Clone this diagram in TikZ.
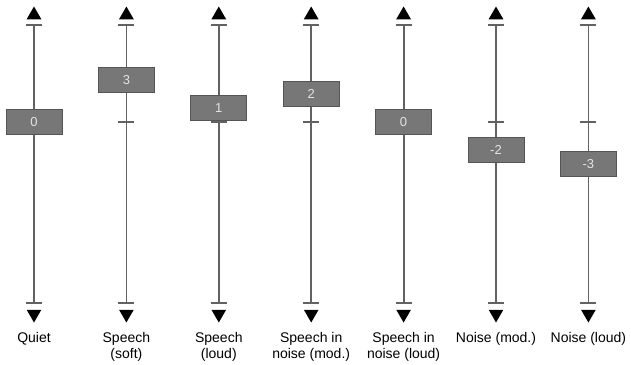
\documentclass[tikz,border=0pt]{standalone}
\usepackage{fontspec}
\setmainfont{Liberation Sans}
\usetikzlibrary{arrows.meta, positioning, shapes.geometric}
\definecolor{railGray}{HTML}{626262}
\definecolor{knobGray}{HTML}{777777}
\definecolor{knobEdge}{HTML}{555555}
\definecolor{knobText}{HTML}{E4E4E4}
\tikzset{
  rail/.style={draw=railGray, line width=1.8pt},
  railTick/.style={draw=railGray, line width=1.2pt},
  tipUp/.style={regular polygon, regular polygon sides=3, fill=black,
                inner sep=0pt, minimum size=17pt},
  tipDown/.style={tipUp, shape border rotate=180},
  knob/.style={rectangle, fill=knobGray, draw=knobEdge, line width=0.8pt,
               text=knobText, minimum width=56pt, minimum height=25pt,
               inner sep=0pt, font=\fontsize{13}{14}\selectfont},
  lbl/.style={align=center, inner sep=0pt, anchor=north,
              font=\fontsize{14}{16}\selectfont},
}
\begin{document}
\begin{tikzpicture}[x=1pt, y=-1pt]
  \useasboundingbox (0,0) rectangle (631,364);
  % one slider per listening situation
  \foreach \i/\txt/\v in {0/Quiet/0, 1/{Speech\\(soft)}/3, 2/{Speech\\(loud)}/1,
      3/{Speech in\\noise (mod.)}/2, 4/{Speech in\\noise (loud)}/0,
      5/Noise (mod.)/-2, 6/Noise (loud)/-3} {
    \pgfmathsetmacro{\px}{34+92.4*\i}
    \pgfmathsetmacro{\py}{122-14*\v}
    \coordinate (top\i) at (\px,25);
    \coordinate (mid\i) at (\px,122);
    \coordinate (bot\i) at (\px,303);
    \node[tipUp] (up\i) at (\px,15) {};
    \node[tipDown] (down\i) at (\px,314) {};
    \draw[rail] (top\i) -- (bot\i);
    \draw[railTick] ([xshift=-8pt]top\i) -- ([xshift=8pt]top\i);
    \draw[railTick] ([xshift=-8pt]mid\i) -- ([xshift=8pt]mid\i);
    \draw[railTick] ([xshift=-8pt]bot\i) -- ([xshift=8pt]bot\i);
    \node[knob] (knob\i) at (\px,\py) {\v};
    \node[lbl, below=9pt of down\i.corner 1] (name\i) {\txt};
  }
\end{tikzpicture}
\end{document}
